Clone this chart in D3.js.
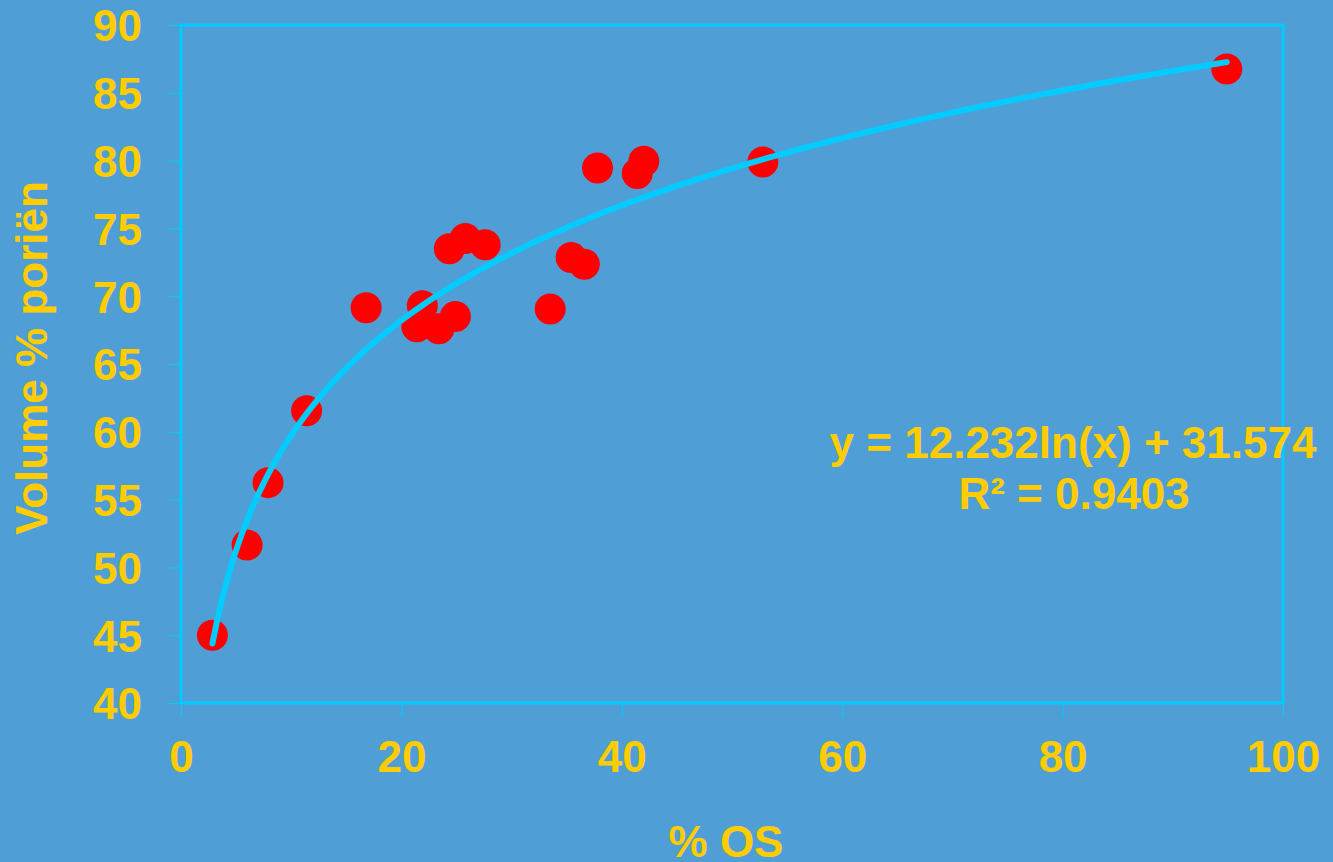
<!DOCTYPE html>
<html>
<head>
<meta charset="utf-8">
<script src="https://cdn.jsdelivr.net/npm/d3@7"></script>
<style>
  html, body { margin: 0; padding: 0; background: #509ED6; }
  svg { display: block; }
  text { font-family: "Liberation Sans", Arial, sans-serif; font-weight: bold; fill: #FFCC00; }
</style>
</head>
<body>
<svg id="chart" width="1333" height="862"></svg>
<script>
// Organic matter content (% OS) against pore volume (%)
const osPercent = [2.85, 6.0, 7.9, 11.4, 16.8, 21.9, 21.4, 23.4, 24.9, 24.35,
                   25.8, 27.6, 33.5, 35.4, 36.6, 37.8, 41.4, 42.0, 52.8, 94.9];
const poreVolume = [45.0, 51.65, 56.25, 61.55, 69.15, 69.3, 67.75, 67.6, 68.5, 73.5,
                    74.25, 73.8, 69.05, 72.85, 72.35, 79.45, 79.05, 79.95, 79.9, 86.75];

// Logarithmic trend line: y = a ln(x) + b
const trendA = 12.232;
const trendB = 31.574;
const rSquared = 0.9403;

const xTicks = [0, 20, 40, 60, 80, 100];
const yTicks = [40, 45, 50, 55, 60, 65, 70, 75, 80, 85, 90];

const plotLeft = 181, plotRight = 1283, plotTop = 25, plotBottom = 703;
const cyan = "#00CCFF";

const svg = d3.select("#chart");

const x = d3.scaleLinear().domain([0, 100]).range([plotLeft, plotRight]);
const y = d3.scaleLinear().domain([40, 90]).range([plotBottom, plotTop]);

// Axes with outward ticks
const yAxis = svg.append("g")
  .attr("transform", `translate(${plotLeft},0)`)
  .call(d3.axisLeft(y).tickValues(yTicks).tickSize(13).tickFormat(d3.format("d")));
yAxis.select(".domain").remove();
yAxis.selectAll(".tick line").attr("stroke", cyan).attr("stroke-width", 1);
yAxis.selectAll(".tick text")
  .attr("x", -39).attr("dy", "0.36em")
  .style("font-size", "44px")
  .attr("fill", "#FFCC00");

const xAxis = svg.append("g")
  .attr("transform", `translate(0,${plotBottom})`)
  .call(d3.axisBottom(x).tickValues(xTicks).tickSize(14).tickFormat(d3.format("d")));
xAxis.select(".domain").remove();
xAxis.selectAll(".tick line").attr("stroke", cyan).attr("stroke-width", 1);
xAxis.selectAll(".tick text")
  .attr("y", 69).attr("dy", 0)
  .style("font-size", "44px")
  .attr("fill", "#FFCC00");

// Plot area frame
svg.append("rect")
  .attr("x", plotLeft).attr("y", plotTop)
  .attr("width", plotRight - plotLeft).attr("height", plotBottom - plotTop)
  .attr("fill", "none")
  .attr("stroke", cyan)
  .attr("stroke-width", 3);

// Data points
svg.append("g")
  .selectAll("circle")
  .data(osPercent.map((v, i) => [v, poreVolume[i]]))
  .join("circle")
  .attr("cx", d => x(d[0]))
  .attr("cy", d => y(d[1]))
  .attr("r", 15.5)
  .attr("fill", "#FF0000");

// Trend curve across the range of the data
const xMin = d3.min(osPercent), xMax = d3.max(osPercent);
const curveX = d3.range(0, 201).map(i => xMin + (xMax - xMin) * i / 200);
const line = d3.line()
  .x(d => x(d))
  .y(d => y(trendA * Math.log(d) + trendB));
svg.append("path")
  .datum(curveX)
  .attr("d", line)
  .attr("fill", "none")
  .attr("stroke", cyan)
  .attr("stroke-width", 6)
  .attr("stroke-linecap", "round");

// Equation label
const eq = svg.append("text")
  .attr("text-anchor", "middle")
  .style("font-size", "44px");
eq.append("tspan").attr("x", 1073).attr("y", 458)
  .text(`y = ${trendA}ln(x) + ${trendB}`);
eq.append("tspan").attr("x", 1074).attr("y", 509)
  .text(`R² = ${rSquared}`);

// Axis titles
svg.append("text")
  .attr("x", 726).attr("y", 857)
  .attr("text-anchor", "middle")
  .style("font-size", "44px")
  .text("% OS");

svg.append("text")
  .attr("transform", "translate(47,358) rotate(-90)")
  .attr("text-anchor", "middle")
  .style("font-size", "44px")
  .text("Volume % poriën");
</script>
</body>
</html>
